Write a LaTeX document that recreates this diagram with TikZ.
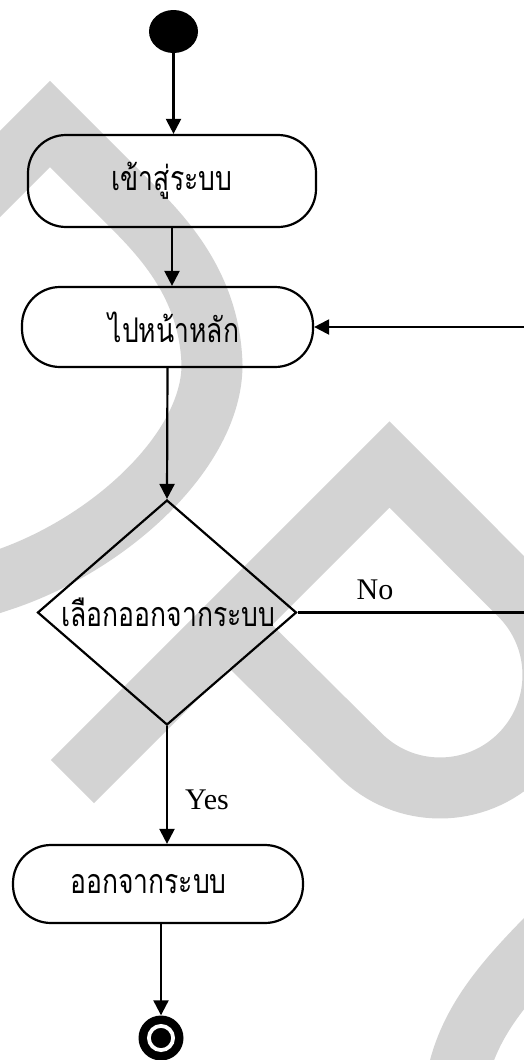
\documentclass[tikz,border=0pt]{standalone}
\usepackage{fontspec}
\setmainfont{Liberation Serif}
\newfontfamily\thaifont[Script=Thai,FakeStretch=0.78]{Loma}
\usetikzlibrary{arrows.meta,shapes.geometric}
\definecolor{wmgray}{RGB}{211,211,211}
\begin{document}
\begin{tikzpicture}[x=1pt,y=-1pt,
  flow/.style={line width=2.2pt,-{Triangle[length=15pt,width=15pt]}},
  activity/.style={draw,line width=2.2pt,rectangle,rounded corners=38pt,inner sep=0pt,
    font=\thaifont\fontsize{34}{40}\selectfont},
  decision/.style={draw,line width=2.2pt,diamond,inner sep=0pt,
    minimum width=259pt,minimum height=225pt},
  thaitext/.style={inner sep=0pt,font=\thaifont\fontsize{34}{40}\selectfont},
  guard/.style={inner sep=0pt,font=\fontsize{30}{36}\selectfont},
  band/.style={draw=wmgray,line width=61pt,line join=miter,line cap=butt},
]
\useasboundingbox (0,0) rectangle (524,1060);
\clip (0,0) rectangle (524,1060);
\fill[white] (0,0) rectangle (524,1060);

% background bands
\draw[band] (-40,214) -- (50,124) -- (133,207)
  .. controls (168,242) and (210,290) .. (212,365)
  .. controls (212,450) and (110,545) .. (0,581) -- (-30,591);
\draw[band] (72.5,781.5) -- (389.5,464.5) -- (519.9,595.1)
  .. controls (564,639.2) and (564,710.8) .. (519.9,754.9)
  .. controls (475.8,799) and (404.2,799) .. (360.1,754.9) -- (229,625);
\draw[band] (570,915) .. controls (510,975) and (465,1020) .. (455,1090);

% activity nodes
\node[ellipse,fill=black,minimum width=49pt,minimum height=43pt,inner sep=0pt] (start) at (173.5,31.5) {};
\node[activity,minimum width=288pt,minimum height=92pt] (login) at (172,181) {เข้าสู่ระบบ};
\node[activity,minimum width=291pt,minimum height=80pt] (home) at (167.5,327) {\hspace*{13pt}ไปหน้าหลัก};
\node[decision] (choice) at (167,612.5) {};
\node[thaitext] (choicetext) at (168.5,612) {เลือกออกจากระบบ};
\node[activity,minimum width=290pt,minimum height=78pt] (logout) at (158,884) {ออกจากระบบ\hspace*{19pt}};
\node[circle,fill=black,minimum size=45pt,inner sep=0pt] (final) at (161,1038) {};
\draw[white,line width=3.8pt] (final.center) circle[radius=12.1pt];
\coordinate (loopback) at (545,612.5);

% connectors
\draw[flow] (start) -- (start |- login.north);
\draw[flow] (login.south) -- (login.south |- home.north);
\draw[flow] (home.south) -- (choice.north);
\draw[flow] (choice.south) -- (choice.south |- logout.north);
\draw[flow] (final |- logout.south) -- (final);
\draw[flow] (choice.east) -- (choice.east -| loopback) |- (home.east);

% guards
\node[guard] (nolabel) at (375,590) {No};
\node[guard] (yeslabel) at (207,800) {Yes};
\end{tikzpicture}
\end{document}
